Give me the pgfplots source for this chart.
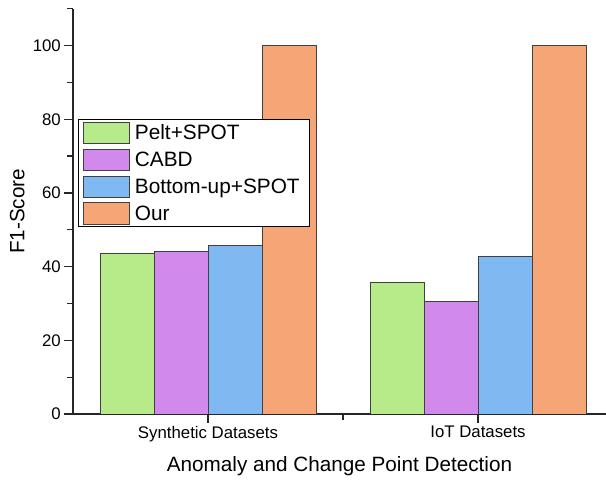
\documentclass[border=0pt]{standalone}
\usepackage{pgfplots}
\pgfplotsset{compat=1.18}
\usepackage{fontspec}
\setmainfont{Liberation Sans}

\definecolor{cPelt}{RGB}{183,235,138}
\definecolor{cCABD}{RGB}{209,137,236}
\definecolor{cBottom}{RGB}{128,185,241}
\definecolor{cOur}{RGB}{246,166,118}

\pgfplotsset{
  swatch/.style={legend image code/.code={
      \draw[##1,draw=black!75,line width=0.8pt] (0pt,-10.8pt) rectangle (46pt,10.8pt);}},
}

\begin{document}
\begin{tikzpicture}
\useasboundingbox (0,0) rectangle (606pt,480pt);
\begin{axis}[
  at={(73pt,66pt)}, anchor=south west,
  scale only axis,
  width=533pt, height=405.3pt,
  xmin=-0.5, xmax=1.474,
  ymin=0, ymax=110,
  axis lines=left,
  axis line style={-, line width=1.2pt, black!85},
  ybar=0pt, bar width=0.2,
  xtick={0,1}, xticklabels={Synthetic Datasets, IoT Datasets},
  minor xtick={0.5},
  ytick={0,20,...,100},
  minor ytick={10,30,...,110},
  tick align=outside,
  major tick length=9pt, minor tick length=5.5pt,
  tick style={line width=1.2pt, black!85},
  /pgf/number format/assume math mode=true,
  yticklabel style={font=\fontsize{16.8}{19}\selectfont, inner sep=3pt},
  xticklabel style={font=\fontsize{16.8}{19}\selectfont, inner sep=3pt},
  ylabel={F1-Score},
  xlabel={Anomaly and Change Point Detection},
  label style={font=\fontsize{20.7}{23}\selectfont},
  ylabel style={at={(axis description cs:0,0.5)}, anchor=south, yshift=45pt},
  xlabel style={at={(axis description cs:0.5,0)}, anchor=north, yshift=-39pt},
  legend style={
    at={(axis cs:-0.481,80)}, anchor=north west,
    draw=black, line width=1pt, fill=white,
    font=\fontsize{20.8}{23}\selectfont,
    row sep=4.5pt, inner xsep=4pt, inner ysep=2pt,
    cells={anchor=west},
    nodes={inner xsep=5.5pt},
  },
  legend cell align=left,
]
\addplot[swatch, fill=cPelt, draw=black!75, line width=0.8pt]
  coordinates {(0,43.7) (1,35.8)};
\addplot[swatch, fill=cCABD, draw=black!75, line width=0.8pt]
  coordinates {(0,44.0) (1,30.5)};
\addplot[swatch, fill=cBottom, draw=black!75, line width=0.8pt]
  coordinates {(0,45.7) (1,42.7)};
\addplot[swatch, fill=cOur, draw=black!75, line width=0.8pt]
  coordinates {(0,100) (1,100)};
\legend{Pelt+SPOT, CABD, Bottom-up+SPOT, Our}
\end{axis}
\end{tikzpicture}
\end{document}
